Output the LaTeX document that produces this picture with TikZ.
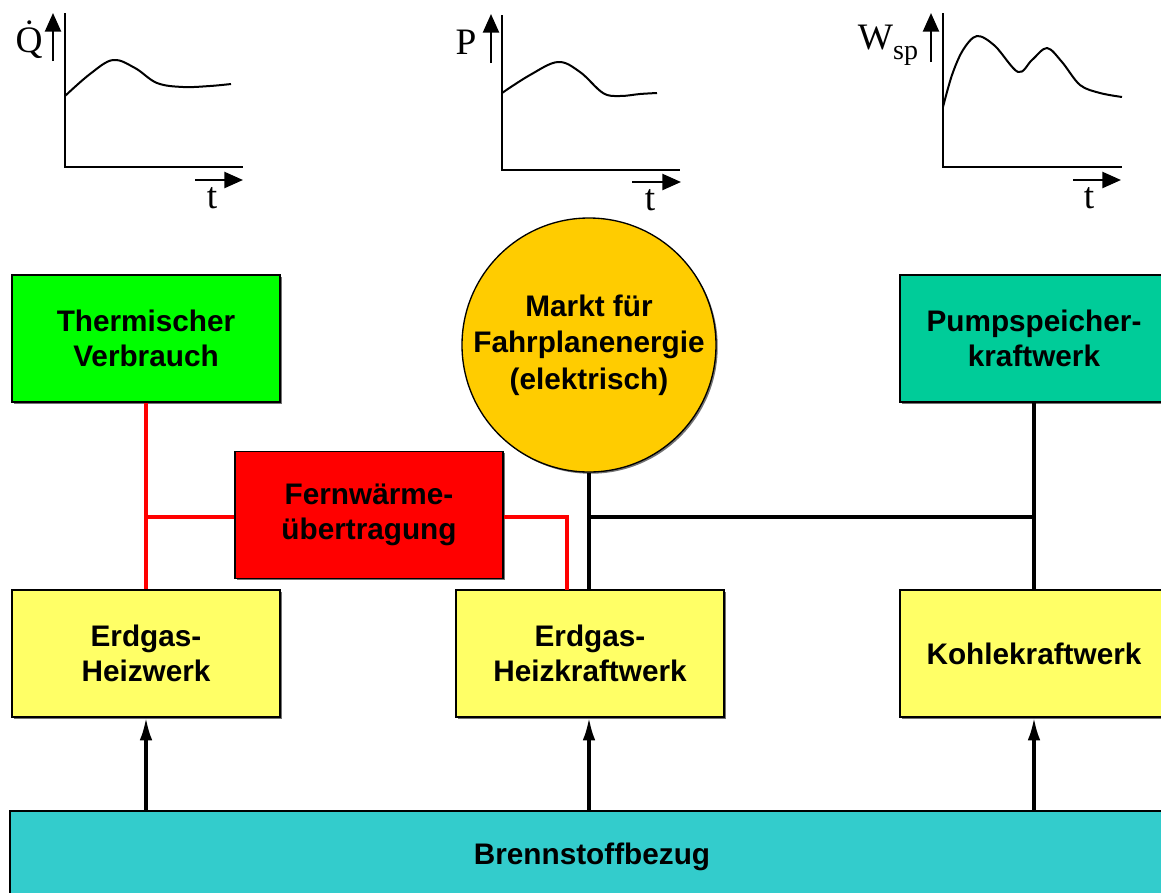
\documentclass[tikz,border=0pt]{standalone}
\usepackage{fontspec}
\setmainfont{Liberation Sans}
\newfontfamily\tnr{Liberation Serif}
\usetikzlibrary{arrows.meta,shadows}
\definecolor{cgreen}{HTML}{00FF00}
\definecolor{corange}{HTML}{FFCC00}
\definecolor{cteal}{HTML}{00CC99}
\definecolor{cred}{HTML}{FF0000}
\definecolor{cyellow}{HTML}{FFFF66}
\definecolor{ccyan}{HTML}{33CCCC}
\begin{document}
\begin{tikzpicture}[x=0.75pt,y=-0.75pt,
  shd/.style={drop shadow={shadow xshift=1.3pt,shadow yshift=-1.3pt,fill=black!55,opacity=1}},
  box/.style={draw=black, line width=1pt, minimum width=201pt, minimum height=95.25pt,
    align=center, inner sep=0pt, font=\fontsize{22.3}{26}\selectfont\bfseries, shd},
  rline/.style={draw=cred, line width=2.4pt},
  bline/.style={draw=black, line width=3pt},
  feed/.style={draw=black, line width=2.4pt, -{Latex[length=17pt,width=9.5pt]}},
  axis/.style={draw=black, line width=1.5pt},
  curve/.style={draw=black, line width=1.5pt, line join=round},
  ax/.style={draw=black, line width=1.8pt, -{Triangle[length=14pt,width=12pt]}},
  lbl/.style={font=\tnr\fontsize{28}{30}\selectfont, inner sep=0pt}]
\useasboundingbox (0,0) rectangle (1161,893);
\clip (0,0) rectangle (1161,893);

% --- graph 1
\draw[axis] (65,13) -- (65,167) -- (243,167);
\draw[curve] plot[smooth, tension=0.6] coordinates {(65,96) (90,74) (113,60) (135,68) (157,83) (183,87) (210,86) (231,84)};
\draw[ax] (53,61) -- (53,13);
\node[lbl] (lq) at (29,40) {\.{Q}};
\draw[ax] (195,180) -- (243,180);
\node[lbl] (lt1) at (212,198) {t};

% --- graph 2
\draw[axis] (502,15) -- (502,170) -- (680,170);
\draw[curve] plot[smooth, tension=0.6] coordinates {(502,93) (530,75) (558,62) (580,72) (603,93) (620,96) (640,94) (657,93)};
\draw[ax] (491,63) -- (491,14);
\node[lbl] (lp) at (466,42) {P};
\draw[ax] (632,182) -- (681,182);
\node[lbl] (lt2) at (650,200) {t};

% --- graph 3
\draw[axis] (943,13) -- (943,167) -- (1122,167);
\draw[curve] plot[smooth, tension=0.55] coordinates {(943,107) (952,75) (963,50) (977,36) (995,46) (1018,72) (1032,60) (1047,48) (1062,62) (1080,85) (1100,93) (1122,97)};
\draw[ax] (931,62) -- (931,13);
\node[lbl] (lw) at (888,45) {W\raisebox{-0.28em}{\fontsize{21}{22}\selectfont sp}};
\draw[ax] (1073,180) -- (1121,180);
\node[lbl] (lt3) at (1089,198) {t};

% --- helper coordinates
\coordinate (busY) at (0,517);
\coordinate (hkwred) at (567,590);

% --- boxes
\node[box, fill=cgreen] (therm) at (146,338.5) {Thermischer\\Verbrauch};
\node[box, fill=cteal] (pump) at (1034,338.5) {Pumpspeicher-\\kraftwerk};
\node[draw=black, line width=1pt, circle, fill=corange, minimum size=190.5pt, inner sep=0pt,
      align=center, font=\fontsize{22.3}{27.5}\selectfont\bfseries, shd] (markt) at (589,345)
      {Markt f\"ur\\Fahrplanenergie\\(elektrisch)};
\node[box, fill=cred] (fern) at (369,515) {Fernw\"arme-\\\"ubertragung};
\node[box, fill=cyellow] (heiz) at (146,653.5) {Erdgas-\\Heizwerk};
\node[box, fill=cyellow] (hkw) at (590,653.5) {Erdgas-\\Heizkraftwerk};
\node[box, fill=cyellow] (kohle) at (1034,653.5) {Kohlekraftwerk};
\node[box, fill=ccyan, minimum width=873pt, minimum height=69pt] (brenn) at (592,857) {Brennstoffbezug};

% red heat lines
\draw[rline] (therm.south) -- (heiz.north);
\draw[rline] (fern.west |- busY) -- (therm.south |- busY);
\draw[rline] (fern.east |- busY) -| (hkwred);

% black electricity lines
\draw[bline] (markt.south) -- (markt.south |- hkw.north);
\draw[bline] (markt.south |- busY) -- (pump.south |- busY);
\draw[bline] (pump.south) -- (kohle.north);

% fuel supply arrows
\draw[feed] (brenn.north -| heiz.south) -- (heiz.south);
\draw[feed] (brenn.north -| markt.south) -- (markt.south |- hkw.south);
\draw[feed] (brenn.north -| kohle.south) -- (kohle.south);
\end{tikzpicture}
\end{document}
